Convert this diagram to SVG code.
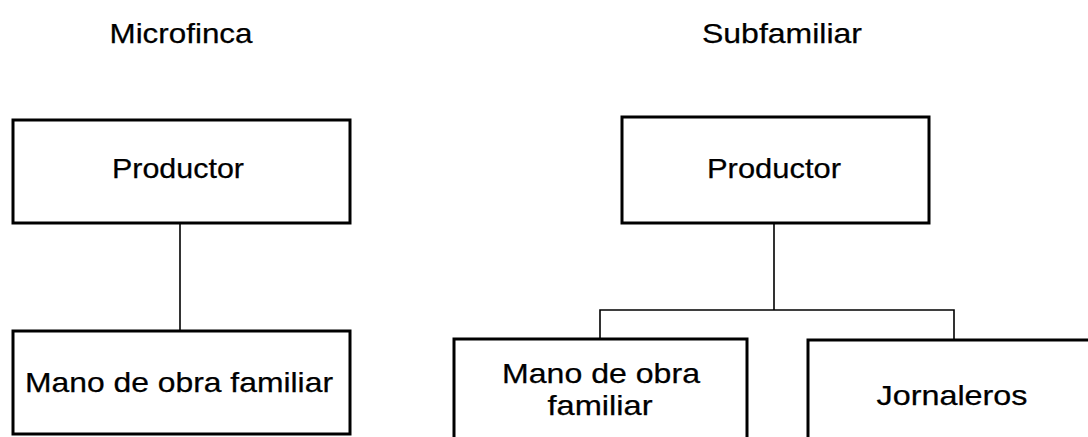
<svg xmlns="http://www.w3.org/2000/svg" width="1088" height="437" viewBox="0 0 1088 437">
<style>
.box{fill:#fff;stroke:#000;stroke-width:3}
.t{font-family:"Liberation Sans",Arial,sans-serif;font-size:28px;fill:#000;stroke:#000;stroke-width:0.25;text-anchor:middle}
.c{stroke:#000;stroke-width:1.6;fill:none}
</style>
<rect width="1088" height="437" fill="#fff"/>
<g id="title-microfinca"><text class="t" x="181" y="43" textLength="143" lengthAdjust="spacingAndGlyphs">Microfinca</text></g>
<g id="title-subfamiliar"><text class="t" x="782" y="43" textLength="160" lengthAdjust="spacingAndGlyphs">Subfamiliar</text></g>
<g id="connectors">
<path class="c" d="M180,223 V331"/>
<path class="c" d="M774,223 V310 M600,339 V310 H954 V340"/>
</g>
<g id="productor-left"><rect class="box" x="13" y="120" width="337" height="103"/><text class="t" x="178" y="178" textLength="132" lengthAdjust="spacingAndGlyphs">Productor</text></g>
<g id="mano-left"><rect class="box" x="13" y="331" width="337" height="103"/><text class="t" x="179" y="392" textLength="308" lengthAdjust="spacingAndGlyphs">Mano de obra familiar</text></g>
<g id="productor-right"><rect class="box" x="622" y="117" width="307" height="106"/><text class="t" x="774" y="178" textLength="134" lengthAdjust="spacingAndGlyphs">Productor</text></g>
<g id="mano-right"><rect class="box" x="454" y="339" width="293" height="105"/><text class="t" x="601" y="383" textLength="198" lengthAdjust="spacingAndGlyphs">Mano de obra</text><text class="t" x="600" y="415" textLength="105" lengthAdjust="spacingAndGlyphs">familiar</text></g>
<g id="jornaleros"><rect class="box" x="808" y="340" width="290" height="104"/><text class="t" x="952" y="405" textLength="151" lengthAdjust="spacingAndGlyphs">Jornaleros</text></g>
</svg>
